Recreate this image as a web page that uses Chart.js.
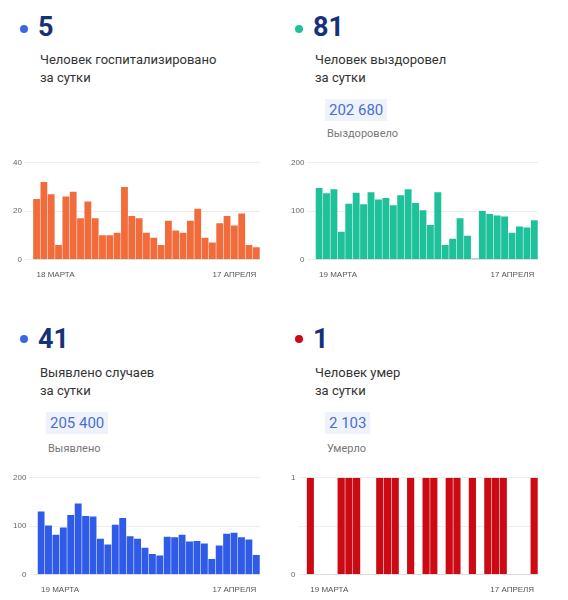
<!DOCTYPE html>
<html lang="ru">
<head>
<meta charset="UTF-8">
<title>Статистика за сутки</title>
<script src="https://cdn.jsdelivr.net/npm/chart.js"></script>
<style>
  body { margin: 0; background: #fff; font-family: Roboto, "Noto Sans", sans-serif; }
  .wrap { position: relative; width: 568px; height: 600px; }
  .abs { position: absolute; }
  .dot { width: 8px; height: 8px; border-radius: 50%; }
  .num { font-size: 27px; font-weight: bold; color: #16307a; line-height: 30px; }
  .txt { font-size: 13px; color: #333; line-height: 18px; }
  .box { background: #eef3fb; color: #4a6fd0; font-size: 15px; padding: 2px 4px; line-height: 18px; }
  .sub { font-size: 11px; color: #777; }
  .chart { position: absolute; width: 250px; height: 128px; }
</style>
</head>
<body>
<div class="wrap">
  <div class="abs dot" style="left:20px;top:25px;background:#3a66e0"></div>
  <div class="abs num" style="left:38px;top:12px">5</div>
  <div class="abs txt" style="left:40px;top:51px">Человек госпитализировано<br>за сутки</div>

  <div class="abs dot" style="left:295px;top:25px;background:#1fc19a"></div>
  <div class="abs num" style="left:313px;top:12px">81</div>
  <div class="abs txt" style="left:315px;top:51px">Человек выздоровел<br>за сутки</div>
  <div class="abs box" style="left:325px;top:99px">202 680</div>
  <div class="abs sub" style="left:327px;top:127px">Выздоровело</div>

  <div class="abs dot" style="left:20px;top:335px;background:#3a66e0"></div>
  <div class="abs num" style="left:38px;top:324px">41</div>
  <div class="abs txt" style="left:40px;top:364px">Выявлено случаев<br>за сутки</div>
  <div class="abs box" style="left:46px;top:412px">205 400</div>
  <div class="abs sub" style="left:48px;top:442px">Выявлено</div>

  <div class="abs dot" style="left:295px;top:335px;background:#cc0a14"></div>
  <div class="abs num" style="left:313px;top:324px">1</div>
  <div class="abs txt" style="left:315px;top:364px">Человек умер<br>за сутки</div>
  <div class="abs box" style="left:325px;top:412px">2 103</div>
  <div class="abs sub" style="left:327px;top:442px">Умерло</div>

  <div class="chart" style="left:10px;top:155px"><canvas id="c1"></canvas></div>
  <div class="chart" style="left:288px;top:155px"><canvas id="c2"></canvas></div>
  <div class="chart" style="left:10px;top:470px"><canvas id="c3"></canvas></div>
  <div class="chart" style="left:288px;top:470px"><canvas id="c4"></canvas></div>
</div>
<script>
// дни: 18/19 марта — 17 апреля
function days(startDay, n) {
  const out = [];
  for (let i = 0; i < n; i++) {
    const d = new Date(2020, 2, startDay + i);
    out.push(d.getDate() + (d.getMonth() === 2 ? ' МАРТА' : ' АПРЕЛЯ'));
  }
  return out;
}
const daysHosp = days(18, 31);
const daysOther = days(19, 30);

const hospitalized = [25, 32, 27, 6, 26, 28, 17, 24, 17, 10, 10, 11, 30, 18, 17, 11, 9, 6, 16, 12, 11, 16, 21, 9, 7, 15, 18, 14, 19, 6, 5];
const recovered = [148, 137, 145, 57, 115, 138, 114, 139, 124, 127, 112, 133, 145, 117, 102, 71, 139, 30, 43, 85, 49, 2, 100, 94, 91, 89, 55, 68, 66, 81];
const detected = [130, 101, 82, 97, 123, 147, 121, 120, 74, 62, 103, 117, 79, 74, 55, 42, 39, 78, 77, 82, 68, 69, 64, 32, 60, 84, 86, 77, 72, 40];
const died = [1, 0, 0, 0, 1, 1, 1, 0, 0, 1, 1, 1, 0, 1, 0, 1, 1, 0, 1, 1, 0, 1, 0, 1, 1, 1, 0, 0, 0, 1];

function makeChart(id, labels, values, color, max, step) {
  new Chart(document.getElementById(id), {
    type: 'bar',
    data: {
      labels: labels,
      datasets: [{ data: values, backgroundColor: color, barPercentage: 0.93, categoryPercentage: 1 }]
    },
    options: {
      responsive: true,
      maintainAspectRatio: false,
      animation: false,
      plugins: { legend: { display: false }, tooltip: { enabled: false } },
      scales: {
        x: {
          grid: { display: false },
          border: { color: '#ddd' },
          ticks: {
            autoSkip: false, maxRotation: 0, align: 'inner',
            color: '#555', font: { size: 8 },
            callback: (v, i) => (i === 0 || i === labels.length - 1) ? labels[i] : ''
          }
        },
        y: {
          min: 0, max: max,
          border: { display: false },
          grid: { color: '#eee' },
          ticks: {
            stepSize: step, color: '#666', font: { size: 8 },
            callback: v => Number.isInteger(v) ? v : ''
          }
        }
      }
    }
  });
}

makeChart('c1', daysHosp, hospitalized, '#f26b3a', 40, 20);
makeChart('c2', daysOther, recovered, '#1fc19a', 200, 100);
makeChart('c3', daysOther, detected, '#2f5be8', 200, 100);
makeChart('c4', daysOther, died, '#cc0a14', 1, 0.5);
</script>
</body>
</html>
